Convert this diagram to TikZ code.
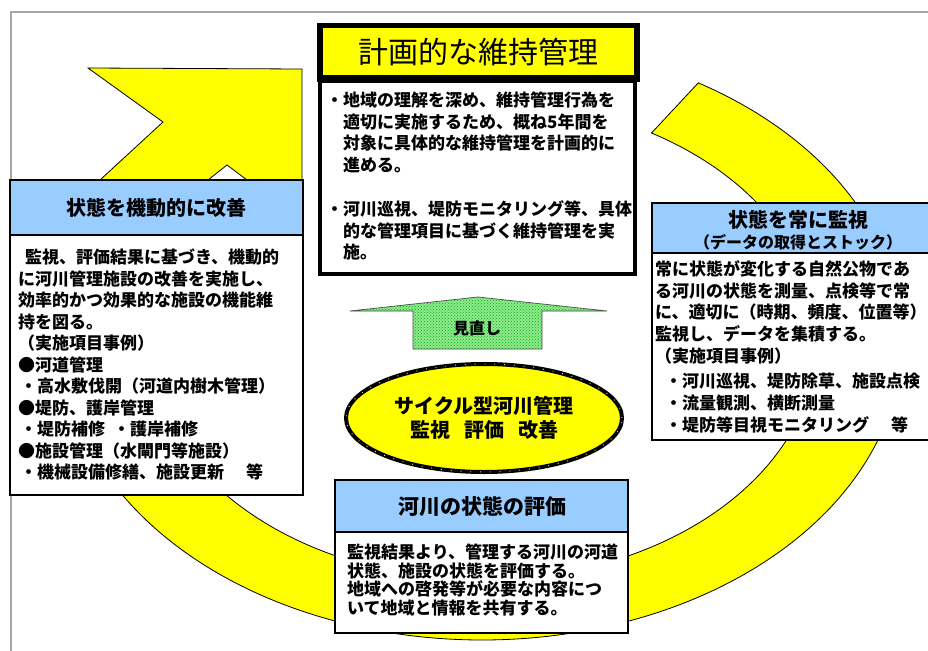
\documentclass[tikz,border=0pt]{standalone}
\usepackage{fontspec}
\setmainfont{Noto Sans CJK JP}
\usetikzlibrary{patterns,shapes.geometric}
\definecolor{ylw}{RGB}{255,255,0}
\definecolor{hdrblue}{RGB}{153,204,255}
\definecolor{grn}{RGB}{140,235,140}
\definecolor{grndk}{RGB}{20,170,20}
\definecolor{framegray}{RGB}{165,165,165}
\begin{document}
\begin{tikzpicture}[x=1pt,y=-1pt,
  boxline/.style={draw=black, line width=1.2pt},
  hdrbox/.style={boxline, fill=hdrblue},
  bodybox/.style={boxline, fill=white},
  ringpart/.style={fill=ylw, draw=black, line width=0.8pt},
  bodytext/.style={anchor=north west, inner sep=0pt, align=left,
    font=\fontsize{17}{21.5}\selectfont\bfseries},
  hdrtext/.style={inner sep=0pt, font=\fontsize{20}{24}\selectfont\bfseries},
]
\useasboundingbox (0,0) rectangle (928,650);
\clip (0,0) rectangle (928,650);
\fill[white] (0,0) rectangle (928,650);

% yellow ring (behind the boxes)
\filldraw[ringpart]
  plot[domain=-59:210, samples=140, smooth] ({482+420*cos(\x)}, {340+300*sin(\x)})
  -- plot[domain=210:-59.6, samples=140, smooth] ({482+335*cos(\x)}, {340+240*sin(\x)})
  -- cycle;
% top-left part of the ring
\filldraw[ringpart] (88,68) -- (302,69) -- (302,180) -- (247,180) -- (227,165)
  -- (208,180) -- (100,180) -- (163,122) -- cycle;

% outer frame
\draw[framegray, line width=1.6pt] (11,652) -- (11,12) -- (930,12);

% top box
\fill[black] (317,23) rectangle (640,82);
\fill[ylw] (323,28) rectangle (634,75);
\node[inner sep=0pt, font=\fontsize{30}{34}\selectfont] (title) at (478,52) {計画的な維持管理};
\draw[fill=white, line width=3.5pt] (320,81) rectangle (635,274);
\node[bodytext] (topbody) at (326,92) {・地域の理解を深め、維持管理行為を\\
　適切に実施するため、概ね5年間を\\
　対象に具体的な維持管理を計画的に\\
　進める。\\[23pt]
・河川巡視、堤防モニタリング等、具体\\
　的な管理項目に基づく維持管理を実\\
　施。};

% left box
\draw[hdrbox] (10,180) rectangle (303,235);
\draw[bodybox] (10,235) rectangle (303,495);
\node[hdrtext] (lefthdr) at (156.5,208) {状態を機動的に改善};
\node[bodytext] (leftbody) at (18,249) {\hspace{7pt}監視、評価結果に基づき、機動的\\
に河川管理施設の改善を実施し、\\
効率的かつ効果的な施設の機能維\\
持を図る。\\
（実施項目事例）\\
●河道管理\\
\hspace{2pt}・高水敷伐開（河道内樹木管理）\\
●堤防、護岸管理\\
\hspace{2pt}・堤防補修\hspace{8pt}・護岸補修\\
●施設管理（水閘門等施設）\\
\hspace{2pt}・機械設備修繕、施設更新\hspace{22pt}等};

% right box
\draw[hdrbox] (652,203) rectangle (944,253);
\draw[bodybox] (652,253) rectangle (944,440);
\node[hdrtext] (righthdr) at (798,220) {状態を常に監視};
\node[inner sep=0pt, font=\fontsize{16}{20}\selectfont\bfseries] (righthdrsub) at (798,242) {（データの取得とストック）};
\node[bodytext, font=\fontsize{17}{21.9}\selectfont\bfseries] (rightbody) at (655,260) {常に状態が変化する自然公物であ\\
る河川の状態を測量、点検等で常\\
に、適切に（時期、頻度、位置等）\\
監視し、データを集積する。\\
（実施項目事例）\\[3pt]
\hspace{10pt}・河川巡視、堤防除草、施設点検\\
\hspace{10pt}・流量観測、横断測量\\
\hspace{10pt}・堤防等目視モニタリング\hspace{22pt}等};

% bottom box
\draw[hdrbox] (335,480) rectangle (628,532);
\draw[bodybox] (335,532) rectangle (628,633);
\node[hdrtext, font=\fontsize{21}{25}\selectfont\bfseries] (bottomhdr) at (482,507) {河川の状態の評価};
\node[bodytext, font=\fontsize{17}{18.5}\selectfont\bfseries] (bottombody) at (347,544) {監視結果より、管理する河川の河道\\
状態、施設の状態を評価する。\\
地域への啓発等が必要な内容につ\\
いて地域と情報を共有する。};

% green arrow (見直し)
\draw[fill=grn, draw=black!70, line width=0.7pt,
  postaction={pattern=crosshatch dots, pattern color=grndk}]
  (413,349) -- (413,311) -- (350,311) -- (478,297) -- (607,311) -- (542,311) -- (542,349) -- cycle;
\node[inner sep=0pt, font=\fontsize{16}{20}\selectfont\bfseries] (review) at (477,328) {見直し};

% central ellipse
\node[ellipse, draw=black, line width=4pt, fill=ylw, minimum width=276pt, minimum height=108pt,
  inner sep=0pt, align=center, font=\fontsize{20}{24}\selectfont\bfseries,
  postaction={draw=ylw, line width=1pt, dash pattern=on 0.8pt off 9pt}]
  (cycle) at (484,418) {サイクル型河川管理\\監視\hspace{14pt}評価\hspace{14pt}改善};
\end{tikzpicture}
\end{document}
